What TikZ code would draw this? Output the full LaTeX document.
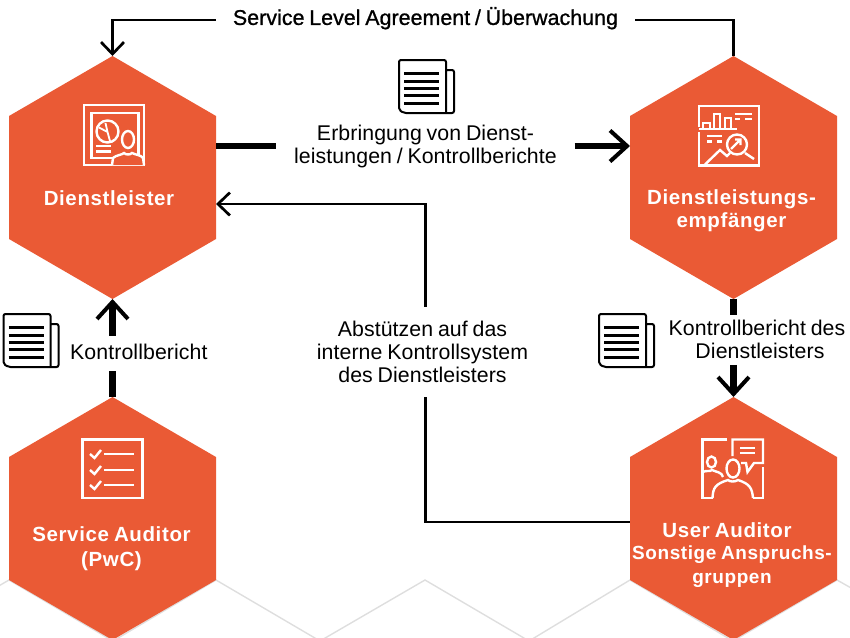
\documentclass[tikz,border=0pt]{standalone}
\usepackage{fontspec}
\setmainfont[LetterSpace=0.4,WordSpace=0.8]{Liberation Sans}
\newfontfamily\hexfont[LetterSpace=3,WordSpace=0.8]{Liberation Sans}
\newfontfamily\slafont[LetterSpace=0.4,WordSpace=0.8,FakeBold=1]{Liberation Sans}
\usetikzlibrary{arrows.meta}
\definecolor{hexorange}{HTML}{EA5A35}
\definecolor{zigzag}{HTML}{DEDEDE}
\tikzset{
	hexbox/.style={minimum width=207pt,minimum height=243pt,inner sep=0,outer sep=0,
		path picture={\fill[hexorange] (path picture bounding box.north)
			-- ([yshift=-60pt]path picture bounding box.north east)
			-- ([yshift=60pt]path picture bounding box.south east)
			-- (path picture bounding box.south)
			-- ([yshift=60pt]path picture bounding box.south west)
			-- ([yshift=-60pt]path picture bounding box.north west) -- cycle;}},
	hextext/.style={text=white,align=center,inner sep=0,font=\hexfont\bfseries\fontsize{20.5}{24}\selectfont},
	flowtext/.style={align=center,inner sep=0,font=\fontsize{21.3}{23}\selectfont},
	thinline/.style={line width=2.7pt},
	thickline/.style={line width=6.5pt},
	thinarrow/.style={thinline,-{Straight Barb[length=12pt,width=23pt,line width=2.7pt]}},
	thickarrow/.style={thickline,-{Straight Barb[length=17pt,width=31pt,line width=4pt]}},
	iconline/.style={white,line width=2.4pt},
	doc/.pic={
		\draw[line width=2pt,rounded corners=2pt] (47,10) -- (55,10) -- (55,53) -- (5,53) -- (0,50) -- (0,0) -- (47,0) -- (47,53);
		\foreach \liney in {13,21,28,35,43}
			\draw[line width=3pt] (5,\liney) -- (40,\liney);
	}
}
\begin{document}
\begin{tikzpicture}[x=1pt,y=-1pt]
	\clip (0,0) rectangle (850,637);
	\draw[zigzag,line width=1.4pt] (-10,591) -- (9,580) -- (113,641) -- (216,580) -- (320,641) -- (425,580) -- (529,641) -- (630,580) -- (733,641) -- (837,580) -- (860,593);

	\node[hexbox] (DL) at (112.5,177.5) {};
	\node[hexbox] (EM) at (733.5,177.5) {};
	\node[hexbox] (SA) at (112.5,518.5) {};
	\node[hexbox] (UA) at (733.5,518.5) {};

	\node[flowtext,font=\slafont\fontsize{21.3}{23}\selectfont,minimum width=419pt,text depth=8pt] (SLA) at (425.5,20) {Service Level Agreement / Überwachung};
	\node[flowtext,minimum width=298pt] (ERB) at (425.5,146) {Erbringung von Dienst-\\leistungen / Kontrollberichte};
	\node[flowtext,minimum height=35pt,anchor=west,text depth=3pt] (KB) at (70,353.5) {Kontrollbericht};
	\node[flowtext,minimum height=90pt] (ABS) at (422.5,352) {Abstützen auf das\\interne Kontrollsystem\\des Dienstleisters};
	\node[flowtext,minimum height=50pt] (KBD) at (757,339.7) {Kontrollbericht des\\\phantom{.}Dienstleisters};

	\coordinate (M) at (425.5,204);
	\coordinate (N) at (425.5,522);
	\coordinate (TL) at (112.5,20);
	\coordinate (TR) at (733.5,20);

	\draw[thinarrow] (SLA.west) -- (TL) -- (DL.north);
	\draw[thinline] (EM.north) -- (TR) -- (SLA.east);
	\draw[thickline] (DL.east |- ERB.west) -- (ERB.west);
	\draw[thickarrow] (ERB.east) -- (EM.west |- ERB.east);
	\draw[thinarrow] (M |- ABS.north) -- (M) -- (DL.east |- M);
	\draw[thinline] (M |- ABS.south) -- (N) -- (UA.west |- N);
	\draw[thickline] (SA.north) -- (SA.north |- KB.south);
	\draw[thickarrow] (SA.north |- KB.north) -- (DL.south);
	\draw[thickline] (EM.south) -- (EM.south |- KBD.north);
	\draw[thickarrow] (EM.south |- KBD.south) -- (UA.north);

	\pic at (399,60) {doc};
	\pic at (3.5,314) {doc};
	\pic at (599,314) {doc};

	\node[hextext] (T1) at (109,198) {Dienstleister};
	\node[hextext,font=\hexfont\bfseries\fontsize{20.5}{23}\selectfont] (T2) at (731.5,210.5) {Dienstleistungs-\\empfänger};
	\node[hextext,font=\hexfont\bfseries\fontsize{20.5}{25}\selectfont] (T3) at (111.5,549) {Service Auditor\\(PwC)};
	\node[hextext] (T4) at (727,530) {User Auditor};
	\node[hextext,font=\hexfont\bfseries\fontsize{19}{24}\selectfont] (T5) at (732,567) {Sonstige Anspruchs-\\gruppen};

	\draw[iconline] (84,105) rectangle (144,165);
	\draw[iconline] (91.5,113) rectangle (138.5,158);
	\draw[iconline] (107.5,131.5) circle (11);
	\draw[iconline,line width=1.8pt] (105.5,123) -- (107.5,132) -- (99,127.5) (107.5,132) -- (110,141);
	\draw[iconline] (96,146) -- (111,146) (96,151.5) -- (111,151.5);
	\draw[iconline,fill=hexorange] (112,165) -- (113,158) .. controls (116,155) and (122,155) .. (124,153) .. controls (126,155) and (130,155) .. (132,153) .. controls (136,155) and (141,155) .. (143,158) -- (144,165);
	\draw[iconline,fill=hexorange] (128,139.5) ellipse (6 and 8.5);

	\draw[iconline] (699,127) -- (699,106) -- (759,106) -- (759,165.5) -- (699,165.5) -- (699,132);
	\draw[iconline] (699,129) -- (737,129);
	\draw[iconline] (703,129) -- (703,123) -- (710,123) -- (710,129) (714,129) -- (714,114) -- (720,114) -- (720,129) (725,129) -- (725,118) -- (731,118) -- (731,129);
	\draw[iconline] (735,114) -- (752,114) (735,119) -- (740,119) (745,119) -- (752,119);
	\draw[iconline] (707,136) -- (722,136) (707,141.5) -- (712,141.5) (717,141.5) -- (722,141.5);
	\draw[iconline] (737,144.5) circle (10);
	\draw[iconline] (745,153) -- (754,159);
	\draw[iconline] (731,149) -- (740,140) (735,139.5) -- (740.5,139.5) -- (740.5,145);
	\draw[iconline] (705,164.5) -- (720,150) -- (727,156) -- (730,153);

	\draw[iconline] (82.5,439.5) rectangle (142.5,498);
	\foreach \iconrow in {454,470,485} {
		\draw[iconline] (90,\iconrow) -- (94.5,\iconrow+4) -- (101,\iconrow-4);
		\draw[iconline] (104,\iconrow) -- (134,\iconrow);
	}

	\draw[iconline] (727,439.5) -- (702.5,439.5) -- (702.5,498) -- (712.5,498);
	\draw[iconline] (732.5,456) -- (732.5,439.5) -- (763,439.5) -- (763,463) -- (754,463) -- (747.5,472) -- (746,463) -- (741,463);
	\draw[iconline] (740,448) -- (755,448) (740,453) -- (755,453);
	\draw[iconline] (763,467) -- (763,498) -- (753,498);
	\draw[iconline] (703,472) .. controls (706,470) and (710,472) .. (712,470) .. controls (716,472) and (722,472) .. (723,477);
	\draw[iconline] (711.5,462) ellipse (4.5 and 5.5);
	\draw[iconline] (712.5,498) .. controls (713,488) and (715,484) .. (728,480) .. controls (730,482) and (735,482) .. (738,480) .. controls (750,484) and (752,488) .. (753,498);
	\draw[iconline] (733,468.5) ellipse (6.5 and 9);
\end{tikzpicture}
\end{document}
